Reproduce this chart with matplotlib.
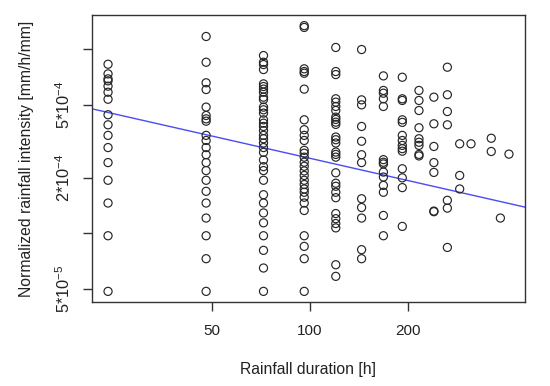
import numpy as np
import matplotlib
matplotlib.use("Agg")
import matplotlib.pyplot as plt
from matplotlib.ticker import FixedLocator, FixedFormatter, NullLocator

plt.rcParams['font.family'] = ['Liberation Sans', 'DejaVu Sans']
plt.rcParams['mathtext.fontset'] = 'custom'
plt.rcParams['mathtext.rm'] = 'Liberation Sans'
plt.rcParams['mathtext.it'] = 'Liberation Sans:italic'
plt.rcParams['mathtext.bf'] = 'Liberation Sans:bold'

# ---- data: rainfall duration [h] and normalized intensity [mm/h/mm] ----
durations = [24, 48, 72, 96, 120, 144, 168, 192, 216, 240, 264, 288, 312, 360, 384, 408]

i24 = [8.27e-4, 7.33e-4, 6.89e-4, 6.72e-4, 6.29e-4, 5.83e-4, 5.34e-4, 4.40e-4,
       3.88e-4, 3.40e-4, 2.92e-4, 2.42e-4, 1.94e-4, 1.46e-4, 9.7e-5, 4.84e-5]
i48 = [1.17e-3, 8.48e-4, 6.56e-4, 6.03e-4, 4.84e-4, 4.36e-4, 4.18e-4, 4.06e-4,
       3.40e-4, 3.19e-4, 2.92e-4, 2.67e-4, 2.42e-4, 2.19e-4, 1.94e-4, 1.69e-4,
       1.46e-4, 1.21e-4, 9.7e-5, 7.28e-5, 4.84e-5]
i72 = [9.22e-4, 8.48e-4, 8.24e-4, 7.74e-4, 6.47e-4, 6.26e-4, 6.06e-4, 5.83e-4,
       5.48e-4, 5.32e-4, 4.84e-4, 4.68e-4, 4.49e-4, 4.13e-4, 3.96e-4, 3.80e-4,
       3.61e-4, 3.40e-4, 3.26e-4, 3.09e-4, 2.92e-4, 2.75e-4, 2.50e-4, 2.30e-4,
       2.19e-4, 1.94e-4, 1.62e-4, 1.46e-4, 1.29e-4, 1.14e-4, 9.7e-5, 8.08e-5,
       6.48e-5, 4.84e-5]
i96 = [1.34e-3, 1.31e-3, 7.81e-4, 7.55e-4, 7.39e-4, 6.06e-4, 4.13e-4, 3.65e-4,
       3.40e-4, 3.19e-4, 2.82e-4, 2.72e-4, 2.59e-4, 2.43e-4, 2.31e-4, 2.18e-4,
       2.06e-4, 1.94e-4, 1.84e-4, 1.74e-4, 1.67e-4, 1.57e-4, 1.46e-4, 1.33e-4,
       9.7e-5, 8.49e-5, 7.28e-5, 4.84e-5]
i120 = [1.02e-3, 7.55e-4, 7.27e-4, 5.37e-4, 5.15e-4, 4.88e-4, 4.64e-4, 4.27e-4,
        4.15e-4, 4.01e-4, 3.90e-4, 3.33e-4, 3.22e-4, 3.09e-4, 2.76e-4, 2.68e-4,
        2.59e-4, 2.13e-4, 1.87e-4, 1.80e-4, 1.67e-4, 1.56e-4, 1.28e-4, 1.20e-4,
        1.13e-4, 1.07e-4, 6.75e-5, 5.84e-5]
i144 = [9.94e-4, 5.30e-4, 4.98e-4, 3.80e-4, 3.16e-4, 2.67e-4, 2.42e-4, 1.54e-4,
        1.38e-4, 1.21e-4, 8.15e-5, 7.28e-5]
i168 = [7.15e-4, 5.96e-4, 5.76e-4, 5.37e-4, 4.88e-4, 2.51e-4, 2.43e-4, 2.38e-4,
        2.15e-4, 2.02e-4, 1.82e-4, 1.67e-4, 1.25e-4, 9.7e-5]
i192 = [7.03e-4, 5.37e-4, 5.26e-4, 4.13e-4, 4.00e-4, 3.40e-4, 3.19e-4, 3.00e-4,
        2.88e-4, 2.79e-4, 2.24e-4, 2.00e-4, 1.77e-4, 1.09e-4]
i216 = [5.96e-4, 5.26e-4, 4.64e-4, 3.74e-4, 3.26e-4, 3.12e-4, 3.00e-4, 2.68e-4, 2.63e-4]
i240 = [5.48e-4, 3.93e-4, 2.96e-4, 2.42e-4, 2.14e-4, 1.32e-4, 1.31e-4]
i264 = [7.97e-4, 5.65e-4, 4.58e-4, 3.88e-4, 1.51e-4, 1.37e-4, 8.38e-5]
i288 = [3.06e-4, 2.06e-4, 1.74e-4]
i312 = [3.06e-4]
i360 = [3.28e-4, 2.78e-4]
i384 = [1.21e-4]
i408 = [2.69e-4]

intensities = [i24, i48, i72, i96, i120, i144, i168, i192, i216, i240, i264,
               i288, i312, i360, i384, i408]

# fitted regression (log10 y = a + b log10 x)
fit_intercept = -2.790
fit_slope = -0.4015

x_ticks = [50, 100, 200]
x_tick_labels = ['50', '100', '200']
y_ticks = [5e-5, 1e-4, 2e-4, 5e-4, 1e-3]
y_tick_labels = [r'$\mathregular{5{*}10^{-5}}$', '', r'$\mathregular{2{*}10^{-4}}$',
                 r'$\mathregular{5{*}10^{-4}}$', '']

# ---- build arrays ----
x = np.concatenate([[d] * len(v) for d, v in zip(durations, intensities)]).astype(float)
y = np.concatenate(intensities)

fig = plt.figure(figsize=(5.5, 3.86), dpi=100)
ax = fig.add_axes([92 / 550, 1 - 302 / 386, (525 - 92) / 550, (302 - 15) / 386])

ax.scatter(x, y, s=34, facecolors='none', edgecolors='#262626', linewidths=0.85, zorder=3)

ax.set_xscale('log')
ax.set_yscale('log')

lx = np.log10(x)
ly = np.log10(y)
px = 0.04 * (lx.max() - lx.min())
py = 0.04 * (ly.max() - ly.min())
xlim = (10 ** (lx.min() - px), 10 ** (lx.max() + px))
ylim = (10 ** (ly.min() - py), 10 ** (ly.max() + py))
ax.set_xlim(*xlim)
ax.set_ylim(*ylim)

xl = np.array(xlim)
ax.plot(xl, 10 ** (fit_intercept + fit_slope * np.log10(xl)), color='#4a4aff',
        lw=1.0, zorder=2)

ax.xaxis.set_major_locator(FixedLocator(x_ticks))
ax.xaxis.set_major_formatter(FixedFormatter(x_tick_labels))
ax.xaxis.set_minor_locator(NullLocator())
ax.yaxis.set_major_locator(FixedLocator(y_ticks))
ax.yaxis.set_major_formatter(FixedFormatter(y_tick_labels))
ax.yaxis.set_minor_locator(NullLocator())

for s in ax.spines.values():
    s.set_color('#333333')
    s.set_linewidth(1.0)

ax.tick_params(axis='both', direction='out', length=6.5, width=1.0, color='#333333',
               labelsize=11, labelcolor='#222222')
ax.tick_params(axis='x', pad=9)
ax.tick_params(axis='y', pad=7, labelsize=11.8)
for lab in ax.get_yticklabels():
    lab.set_rotation(90)
    lab.set_va('center')

ax.set_xlabel('Rainfall duration [h]', fontsize=11.3, color='#222222')
ax.set_ylabel('Normalized rainfall intensity [mm/h/mm]', fontsize=11.3, color='#222222')
ax.xaxis.set_label_coords(0.5, (302 - 362) / 287, transform=ax.transAxes)
ax.yaxis.set_label_coords((34 - 92) / 433, 0.5, transform=ax.transAxes)

fig.savefig('out.png', dpi=100)
